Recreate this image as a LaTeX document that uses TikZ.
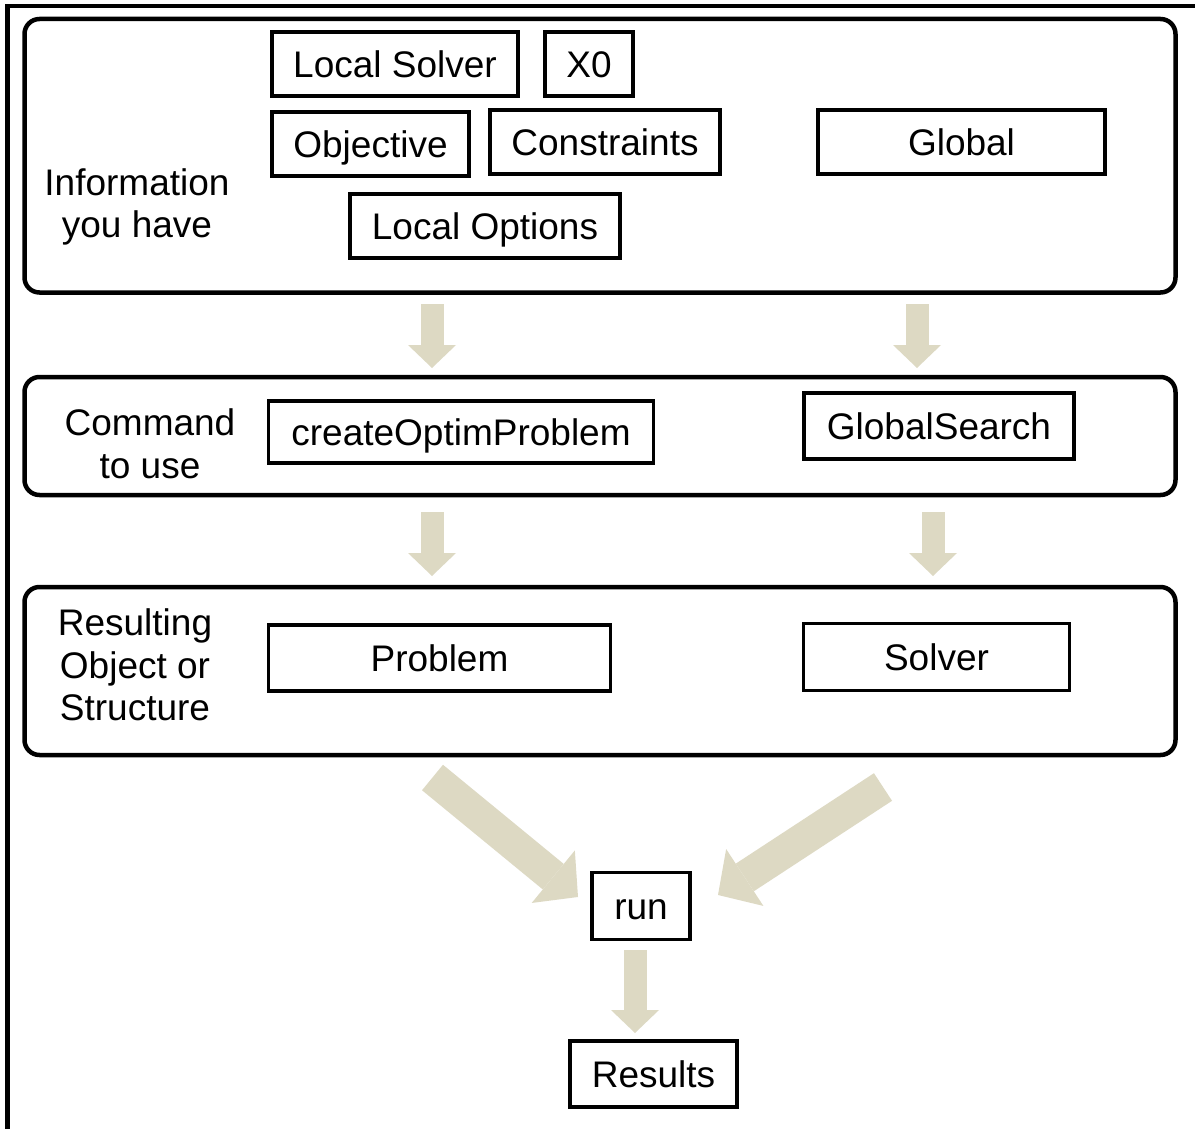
\documentclass[tikz,border=0pt]{standalone}
\usepackage{fontspec}
\setmainfont{Liberation Sans}
\usetikzlibrary{arrows.meta}
\definecolor{tan}{HTML}{DDD9C3}
\tikzset{
  panel/.style={draw, line width=4.5pt, rounded corners=15pt, inner sep=0pt, outer sep=0pt},
  itembox/.style={draw, line width=3.5pt, inner sep=0pt, outer sep=0pt, text height=26.5pt, text depth=0pt, font=\fontsize{37}{42.5}\selectfont},
  lab/.style={align=center, inner sep=0pt, font=\fontsize{37}{42.5}\selectfont},
  vflow/.style={draw=tan, line width=23pt, -{Triangle[length=23pt, width=48pt, line width=0pt]}},
  dflow/.style={draw=tan, line width=33pt, -{Triangle[length=32pt, width=68pt, line width=0pt]}}
}
\begin{document}
\begin{tikzpicture}[x=1pt,y=-1pt]
\useasboundingbox (0,0) rectangle (1195,1129);
% outer frame (cropped)
\draw[line width=4.5pt] (7.5,1140) -- (7.5,6) -- (1205,6);

% panels
\node[panel, minimum width=1151pt, minimum height=273.5pt] (p1) at (600,155.75) {};
\node[panel, minimum width=1151pt, minimum height=118pt] (p2) at (600,436) {};
\node[panel, minimum width=1151pt, minimum height=168pt] (p3) at (600,671) {};

% labels
\node[lab] (l1) at (137,207) {Information\\you have};
\node[lab] (l2) at (150,444) {Command\\to use};
\node[lab] (l3) at (135,665) {Resulting\\Object or\\Structure};

% items
\node[itembox, minimum width=246pt, minimum height=64pt] (ls) at (395,64) {Local Solver};
\node[itembox, minimum width=88pt, minimum height=64pt] (x0) at (589,64) {X0};
\node[itembox, minimum width=197pt, minimum height=64pt] (obj) at (370.5,144) {Objective};
\node[itembox, minimum width=230pt, minimum height=64pt] (con) at (605,142) {Constraints};
\node[itembox, minimum width=287pt, minimum height=64pt] (glo) at (961.5,142) {Global};
\node[itembox, minimum width=270pt, minimum height=64pt] (lo) at (485,226) {Local Options};
\node[itembox, minimum width=385pt, minimum height=62pt] (cop) at (461,432) {createOptimProblem};
\node[itembox, minimum width=270pt, minimum height=66pt] (gs) at (939,426) {GlobalSearch};
\node[itembox, minimum width=342pt, minimum height=66pt] (prob) at (439.5,658) {Problem};
\node[itembox, minimum width=266pt, minimum height=67pt] (sol) at (936.5,657) {Solver};
\node[itembox, minimum width=98pt, minimum height=67pt] (run) at (641,906) {run};
\node[itembox, minimum width=167pt, minimum height=66pt] (res) at (653.5,1074) {Results};

% arrow end points
\coordinate (a1s) at (432,304); \coordinate (a1e) at (432,368);
\coordinate (a2s) at (917,304); \coordinate (a2e) at (917,368);
\coordinate (a3s) at (432,512); \coordinate (a3e) at (432,576);
\coordinate (a4s) at (933,512); \coordinate (a4e) at (933,576);
\coordinate (a5s) at (635,950); \coordinate (a5e) at (635,1033);
\coordinate (d1s) at (432.5,777.5); \coordinate (d1e) at (578,897);
\coordinate (d2s) at (883,787); \coordinate (d2e) at (718,895);

\draw[vflow] (a1s) -- (a1e);
\draw[vflow] (a2s) -- (a2e);
\draw[vflow] (a3s) -- (a3e);
\draw[vflow] (a4s) -- (a4e);
\draw[vflow] (a5s) -- (a5e);
\draw[dflow] (d1s) -- (d1e);
\draw[dflow] (d2s) -- (d2e);
\end{tikzpicture}
\end{document}
